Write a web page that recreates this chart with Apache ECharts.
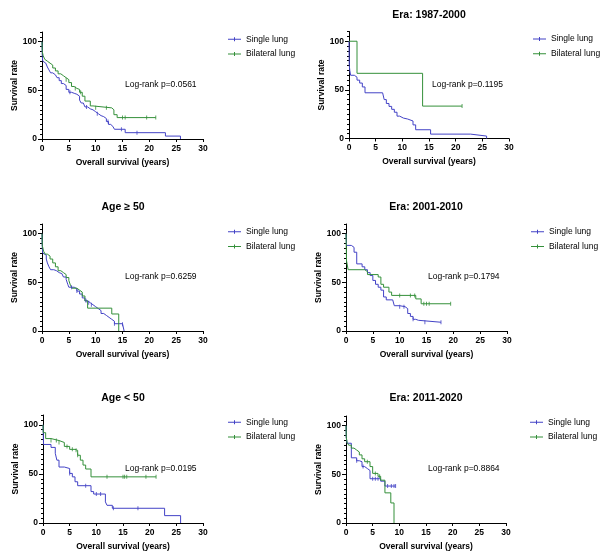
<!DOCTYPE html>
<html><head><meta charset="utf-8">
<script src="https://cdn.jsdelivr.net/npm/echarts@6/dist/echarts.min.js"></script>
<style>html,body{margin:0;padding:0;background:#fff}#c{width:616px;height:560px}</style>
</head><body><div id="c"></div>
<script>
// ---------- DATA ----------
const seriesNames = ['Single lung', 'Bilateral lung'];
const xTickValues = [0, 5, 10, 15, 20, 25, 30];
const yLabelValues = [0, 50, 100];
const panelTitles = ['', 'Era: 1987-2000', 'Age \u2265 50', 'Era: 2001-2010', 'Age < 50', 'Era: 2011-2020'];
const logRankLabels = ['Log-rank p=0.0561', 'Log-rank p=0.1195', 'Log-rank p=0.6259', 'Log-rank p=0.1794', 'Log-rank p=0.0195', 'Log-rank p=0.8864'];

// Panel 1: overall
const overallSingle = [[0,100],[0.05,85],[0.15,80],[0.4,78],[0.7,76],[1,74],[1.3,71],[1.6,68],[2,66],[2.5,65],[2.8,63],[3.2,60],[3.6,57],[4,55],[4.5,51],[5,48],[5.5,47],[6,46],[6.5,44],[7,40],[7.3,37],[7.7,35],[8,33],[8.5,31],[9,30],[9.5,28],[10,26],[10.5,24],[11,23],[11.5,21],[12,18],[12.4,15],[12.8,13],[13.2,11],[13.5,10],[15.5,6.5],[23,3],[25.8,0]];
const overallSingleCensor = [5.2, 8.3, 10.3, 12.3, 14.8, 17.7];
const overallBilateral = [[0,100],[0.05,90],[0.2,86],[0.5,82],[0.8,80],[1,78],[1.5,76],[2,73],[2.5,70],[3,67],[3.5,65],[4,63],[4.5,61],[5,58],[5.5,54],[6,52],[6.5,51],[7,48],[7.5,44],[8,39],[9,34],[9.5,32],[13,30],[13.4,25],[14,22],[21.2,22]];
const overallBilateralCensor = [4.5, 6.2, 7.2, 10, 12, 15, 15.5, 19.5, 21.2];

// Panel 2: Era 1987-2000
const era1Single = [[0,100],[0.05,75],[0.15,70],[0.3,65],[1,63],[1.5,60],[2,57],[2.5,53],[3,47],[6.3,45],[6.6,40],[7,36],[7.5,33],[8,30],[8.5,27],[9,23],[9.5,21],[10.2,20],[11,18],[12,14],[12.5,9],[15.3,4.5],[22.8,2.5],[25.8,0]];
const era1SingleCensor = [];
const era1Bilateral = [[0,100],[1.5,67],[13.8,33.3],[21.2,33.3]];
const era1BilateralCensor = [21.2];

// Panel 3: Age >= 50
const ageOldSingle = [[0,100],[0.05,85],[0.15,80],[0.5,78],[0.8,74],[1,70],[1.3,66],[1.6,63],[2.2,62],[2.7,60],[3.2,59],[3.7,57],[4,55.5],[4.5,53],[4.8,48],[5,45],[6,43.5],[6.5,41],[7,38],[7.5,34],[8,31],[8.5,29],[9,27],[9.5,25],[10,23],[10.5,21],[11,18],[11.5,16],[12,14],[12.5,12],[13,10],[13.5,7.5],[15,7],[15.3,0]];
const ageOldSingleCensor = [5.5, 6.5, 8.2, 8.7, 9.2, 13.5, 15];
const ageOldBilateral = [[0,100],[0.05,88],[0.3,82],[0.6,79],[1,77],[1.5,74],[2,70],[2.5,66],[3,62],[3.5,60],[4,58],[4.5,55],[5,52],[5.3,47],[5.6,44],[6.5,42],[7,40],[7.5,36],[8,31],[8.5,23.5],[13,17.5],[14.3,0]];
const ageOldBilateralCensor = [];

// Panel 4: Era 2001-2010
const era2Single = [[0,100],[0.1,88],[1,86],[1.5,81],[2,69],[3,66],[3.5,63],[4,60],[4.5,57],[5,52],[5.5,48],[6,45],[6.5,42],[7,35],[7.5,32],[8.7,30],[9,26],[10,25],[11,23],[11.5,18],[12,15],[12.5,12],[13,11],[13.5,9],[17.7,9]];
const era2SingleCensor = [10, 10.8, 12.5, 14.7, 17.7];
const era2Bilateral = [[0,100],[0.1,72],[0.4,63],[3.5,61],[4,58],[6,55.5],[6.5,48],[7,45],[8,40],[8.5,36.6],[13,33],[14,28],[19.5,28]];
const era2BilateralCensor = [10, 12, 12.8, 14.5, 15, 15.5, 19.5];

// Panel 5: Age < 50
const ageYoungSingle = [[0,100],[0.1,80],[1.5,77],[2.3,71],[2.6,64],[3,57],[4,55.5],[5,50.5],[5.5,47],[6,42],[6.5,38],[9,32],[9.5,29.5],[11.7,21.5],[12,18],[13,15],[22.8,7.5],[25.8,0]];
const ageYoungSingleCensor = [5, 8, 10, 10.8, 13.2, 17.8];
const ageYoungBilateral = [[0,100],[0.05,92],[0.5,86],[1.5,84],[3,82],[4,78],[5,75],[6,74],[6.5,69],[7,64],[7.5,59],[8,55],[9,47],[21.2,47]];
const ageYoungBilateralCensor = [1.5, 2.5, 3, 4.5, 5.5, 6.2, 6.5, 12, 15, 15.3, 15.7, 19.3, 21.2];

// Panel 6: Era 2011-2020
const era3Single = [[0,100],[0.05,88],[0.2,82],[1,67],[2,64],[2.5,63],[3,58],[3.5,56],[4,54],[4.5,45.5],[6.5,43],[7.3,38],[9.3,38]];
const era3SingleCensor = [2, 3.2, 5, 5.5, 6, 7.8, 8.5, 9, 9.3];
const era3Bilateral = [[0,100],[0.05,88],[0.2,83],[0.5,80],[1,77],[1.5,75],[2,73],[2.5,70],[3,66],[3.5,63],[4.5,58],[5,51],[6,48],[6.5,44],[7.3,31],[8.4,20.6],[9,0]];
const era3BilateralCensor = [4, 5.5, 6.3];

// ---------- LAYOUT ----------
const panels = [
  {s: overallSingle, sc: overallSingleCensor, b: overallBilateral, bc: overallBilateralCensor},
  {s: era1Single, sc: era1SingleCensor, b: era1Bilateral, bc: era1BilateralCensor},
  {s: ageOldSingle, sc: ageOldSingleCensor, b: ageOldBilateral, bc: ageOldBilateralCensor},
  {s: era2Single, sc: era2SingleCensor, b: era2Bilateral, bc: era2BilateralCensor},
  {s: ageYoungSingle, sc: ageYoungSingleCensor, b: ageYoungBilateral, bc: ageYoungBilateralCensor},
  {s: era3Single, sc: era3SingleCensor, b: era3Bilateral, bc: era3BilateralCensor}
];
const grids = [
  {left: 42, top: 32, width: 161, height: 107},
  {left: 349, top: 31.5, width: 160, height: 107},
  {left: 42, top: 224, width: 161, height: 107},
  {left: 346, top: 224, width: 161, height: 107},
  {left: 43, top: 415, width: 160, height: 108},
  {left: 346, top: 416, width: 160, height: 107}
];
const titlePos = [null, [429, 15], [123, 207], [426, 207], [123, 398], [426, 398]];
const pvalPos = [[125, 85], [432, 85], [125, 277], [428, 277], [125, 469], [428, 469]];
const legendPos = [[228, 34.3], [533, 34], [228, 226.7], [531, 226.7], [228, 417.3], [530, 417.3]];

const FONT = 'Liberation Sans, Arial, sans-serif';
const BLUE = '#4343c6';
const GREEN = '#34903a';
const colors = [BLUE, GREEN];

function survAt(curve, t) {
  let s = curve[0][1];
  for (const p of curve) { if (p[0] <= t) s = p[1]; else break; }
  return s;
}

const xAxes = [], yAxes = [], series = [], legends = [], graphics = [];
panels.forEach((p, i) => {
  xAxes.push({
    gridIndex: i, type: 'value', min: 0, max: 30, interval: 5,
    axisLine: {show: true, lineStyle: {color: '#000', width: 1}},
    axisTick: {show: true, length: 3, lineStyle: {color: '#000', width: 1}},
    axisLabel: {color: '#000', fontSize: 8.5, fontWeight: 'bold', fontFamily: FONT, margin: 5},
    splitLine: {show: false},
    name: 'Overall survival (years)', nameLocation: 'middle', nameGap: 19,
    nameTextStyle: {color: '#000', fontSize: 8.5, fontWeight: 'bold', fontFamily: FONT}
  });
  yAxes.push({
    gridIndex: i, type: 'value', min: 0, max: 110, interval: 50, position: 'left',
    axisLine: {show: true, lineStyle: {color: '#000', width: 1}},
    axisTick: {show: true, length: 4, lineStyle: {color: '#000', width: 1}},
    axisLabel: {color: '#000', fontSize: 8.5, fontWeight: 'bold', fontFamily: FONT, margin: 5,
      showMaxLabel: false, formatter: v => yLabelValues.includes(v) ? String(v) : ''},
    splitLine: {show: false},
    name: 'Survival rate', nameLocation: 'middle', nameGap: 22, nameRotate: 90,
    nameTextStyle: {color: '#000', fontSize: 8.5, fontWeight: 'bold', fontFamily: FONT}
  });
  yAxes.push({
    gridIndex: i, type: 'value', min: 0, max: 110, interval: 5, position: 'left',
    axisLine: {show: false},
    axisTick: {show: true, length: 2, lineStyle: {color: '#000', width: 1}},
    axisLabel: {show: false}, splitLine: {show: false}
  });
  const curves = [p.s, p.b], cens = [p.sc, p.bc];
  curves.forEach((c, k) => {
    series.push({
      type: 'line', name: seriesNames[k], xAxisIndex: i, yAxisIndex: 2 * i,
      data: c, step: 'end', showSymbol: false, symbol: 'none',
      lineStyle: {color: colors[k], width: 1}, itemStyle: {color: colors[k]},
      silent: true, animation: false, z: 3 + k
    });
    series.push({
      type: 'scatter', name: seriesNames[k] + ' censored', xAxisIndex: i, yAxisIndex: 2 * i,
      data: cens[k].map(t => [t, survAt(c, t)]), symbol: 'rect', symbolSize: [1, 4],
      itemStyle: {color: colors[k]}, silent: true, animation: false, z: 5
    });
  });
  legends.push({
    orient: 'vertical', left: legendPos[i][0], top: legendPos[i][1], padding: 0,
    itemWidth: 13, itemHeight: 5, itemGap: 4.7, selectedMode: false,
    data: seriesNames.map(n => ({name: n, icon: 'path://M0,2h13v1h-13z M6,0.5h1v4h-1z'})),
    textStyle: {color: '#000', fontSize: 8.5, fontFamily: FONT, lineHeight: 10}
  });
  if (panelTitles[i]) {
    graphics.push({type: 'text', x: titlePos[i][0], y: titlePos[i][1], silent: true,
      style: {text: panelTitles[i], font: 'bold 10.5px ' + FONT, fill: '#000', align: 'center', verticalAlign: 'middle'}});
  }
  graphics.push({type: 'text', x: pvalPos[i][0], y: pvalPos[i][1], silent: true,
    style: {text: logRankLabels[i], font: '8.5px ' + FONT, fill: '#000', align: 'left', verticalAlign: 'middle'}});
});

const chart = echarts.init(document.getElementById('c'), null, {renderer: 'canvas'});
chart.setOption({
  animation: false,
  backgroundColor: '#fff',
  grid: grids.map(g => Object.assign({containLabel: false, outerBoundsMode: 'none'}, g)),
  xAxis: xAxes, yAxis: yAxes, series: series, legend: legends, graphic: graphics
});
</script></body></html>
